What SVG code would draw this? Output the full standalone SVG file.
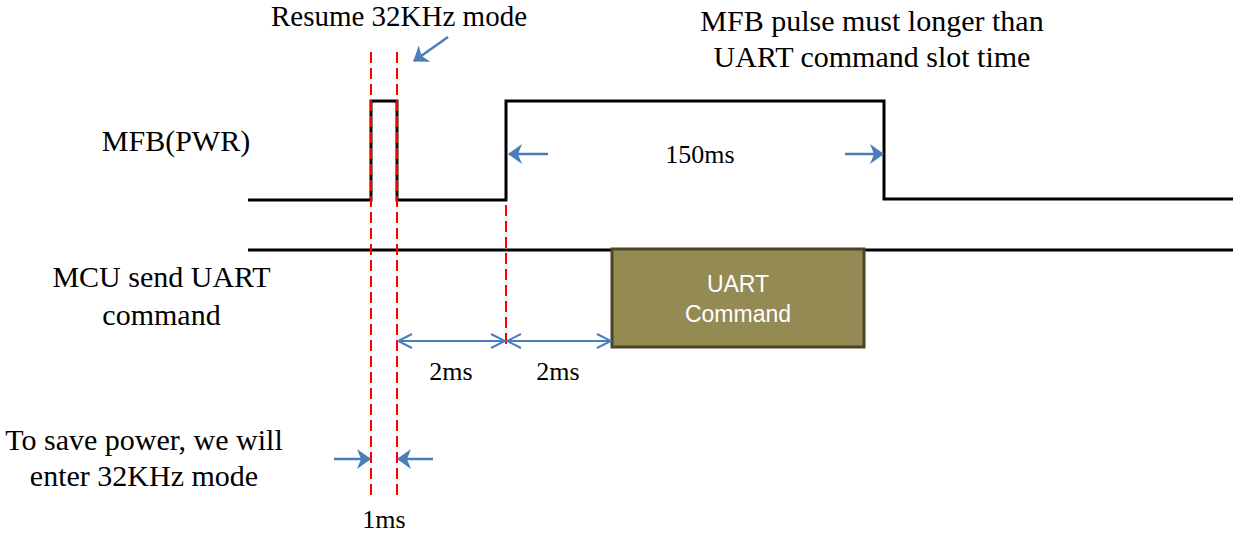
<svg xmlns="http://www.w3.org/2000/svg" width="1233" height="536" viewBox="0 0 1233 536">
<style>
.t{font-family:"Liberation Serif","Times New Roman",serif;fill:#000;}
.big{font-size:30px;}
.sm{font-size:26px;}
.wave{fill:none;stroke:#000;stroke-width:3;stroke-linejoin:miter;}
.red{stroke:#ff0000;stroke-width:2;stroke-dasharray:11 5;fill:none;}
.blue{stroke:#4a7ebb;stroke-width:2.5;fill:none;}
.dim{stroke:#4a7ebb;stroke-width:2;fill:none;}
</style>
<defs>
<marker id="ah" viewBox="0 0 14 20" refX="13" refY="10" markerWidth="14" markerHeight="20" markerUnits="userSpaceOnUse" orient="auto">
<path d="M0,0 L14,10 L0,20 L4,10 Z" fill="#4a7ebb"/>
</marker>
<marker id="vh" viewBox="0 0 16 16" refX="15" refY="8" markerWidth="16" markerHeight="16" markerUnits="userSpaceOnUse" orient="auto-start-reverse">
<path d="M1,1 L15,8 L1,15" fill="none" stroke="#4a7ebb" stroke-width="2"/>
</marker>
</defs>
<rect width="1233" height="536" fill="#fff"/>
<g id="signals">
<polyline id="mfb-wave" class="wave" points="248,200 371,200 371,101 397,101 397,200 506,200 506,101 884,101 884,199 1233,199"/>
<line id="mcu-line" class="wave" x1="248" y1="250" x2="1233" y2="250"/>
</g>
<g id="uart-box">
<rect x="612" y="249" width="252" height="98" fill="#948a54" stroke="#4b4526" stroke-width="3"/>
<text x="738" y="292" font-family="'Liberation Sans',Arial,sans-serif" font-size="23" fill="#fff" text-anchor="middle">UART</text>
<text x="738" y="322" font-family="'Liberation Sans',Arial,sans-serif" font-size="23" fill="#fff" text-anchor="middle">Command</text>
</g>
<g id="guides">
<line class="red" x1="371" y1="52" x2="371" y2="498"/>
<line class="red" x1="397" y1="52" x2="397" y2="498"/>
<line class="red" x1="506" y1="205" x2="506" y2="347"/>
</g>
<g id="connectors">
<line class="blue" x1="448" y1="37" x2="414" y2="61" marker-end="url(#ah)"/>
<line class="blue" x1="548" y1="154" x2="509" y2="154" marker-end="url(#ah)"/>
<line class="blue" x1="845" y1="154" x2="883" y2="154" marker-end="url(#ah)"/>
<line class="blue" x1="334" y1="459" x2="370" y2="459" marker-end="url(#ah)"/>
<line class="blue" x1="433" y1="459" x2="398" y2="459" marker-end="url(#ah)"/>
<line class="dim" x1="398" y1="341" x2="505" y2="341" marker-start="url(#vh)" marker-end="url(#vh)"/>
<line class="dim" x1="507" y1="341" x2="611" y2="341" marker-start="url(#vh)" marker-end="url(#vh)"/>
</g>
<g id="labels">
<text class="t" font-size="29" x="399" y="26" text-anchor="middle">Resume 32KHz mode</text>
<text class="t big" x="872" y="31" text-anchor="middle">MFB pulse must longer than</text>
<text class="t big" x="872" y="67" text-anchor="middle">UART command slot time</text>
<text class="t big" x="176" y="151" text-anchor="middle">MFB(PWR)</text>
<text class="t big" x="161.5" y="287" text-anchor="middle">MCU send UART</text>
<text class="t big" x="161.5" y="325" text-anchor="middle">command</text>
<text class="t big" x="144" y="450" text-anchor="middle">To save power, we will</text>
<text class="t big" x="144" y="486" text-anchor="middle">enter 32KHz mode</text>
<text class="t sm" x="700" y="163" text-anchor="middle">150ms</text>
<text class="t sm" x="451" y="380" text-anchor="middle">2ms</text>
<text class="t sm" x="558" y="380" text-anchor="middle">2ms</text>
<text class="t sm" x="384" y="528" text-anchor="middle">1ms</text>
</g>
</svg>
